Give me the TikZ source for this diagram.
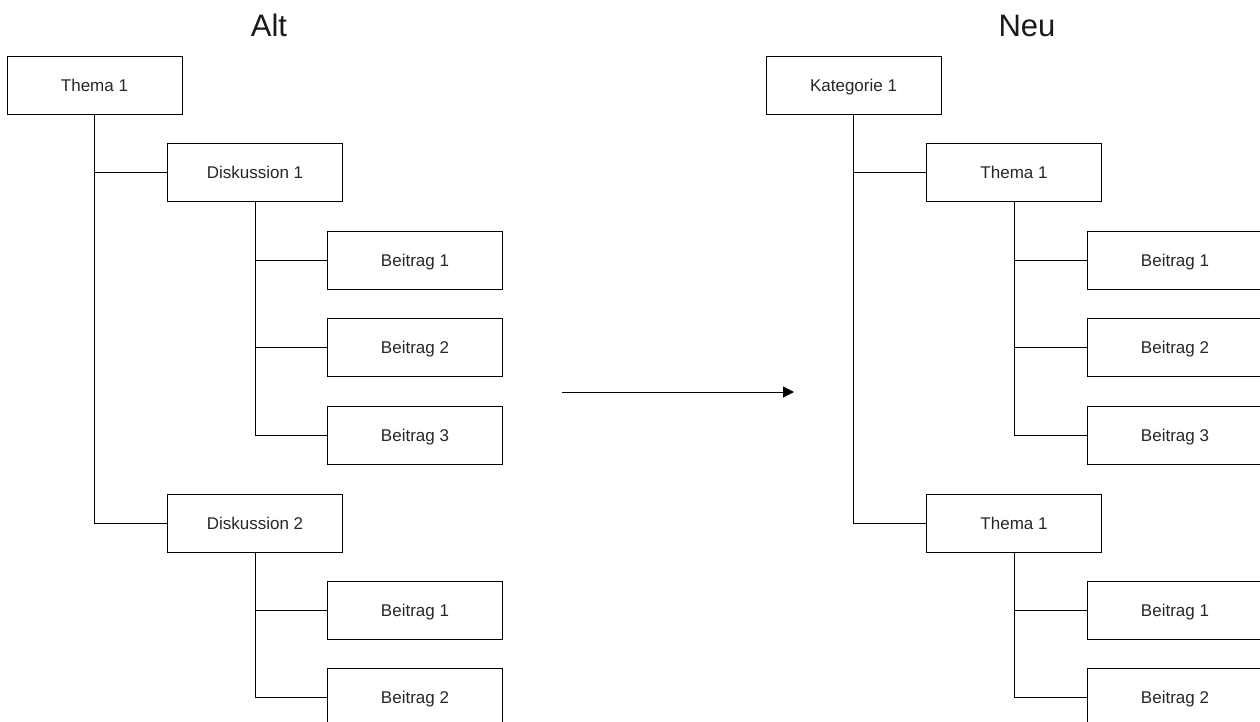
\documentclass[tikz,border=0pt]{standalone}
\usepackage{fontspec}
\setmainfont{Liberation Sans}
\usetikzlibrary{arrows.meta}
\begin{document}
\begin{tikzpicture}[x=1pt,y=-1pt,
  box/.style={draw=black,line width=1pt,minimum width=175pt,minimum height=58pt,inner sep=0pt,
    font=\fontsize{17}{20}\selectfont,text=black!85,text height=12.2pt,text depth=0pt},
  title/.style={font=\fontsize{31}{36}\selectfont,text=black!90,anchor=base},
  link/.style={draw=black,line width=1pt}]
\useasboundingbox (0,0) rectangle (1260,722);
\clip (0,0) rectangle (1260,722);
% titles
\node[title] (talt) at (269,37) {Alt};
\node[title] (tneu) at (1027,37) {Neu};
% left tree
\node[box] (t1) at (94.5,85.5) {Thema 1};
\node[box] (d1) at (255,172.5) {Diskussion 1};
\node[box] (d1b1) at (415,260) {Beitrag 1};
\node[box] (d1b2) at (415,347.5) {Beitrag 2};
\node[box] (d1b3) at (415,435) {Beitrag 3};
\node[box] (d2) at (255,523) {Diskussion 2};
\node[box] (d2b1) at (415,610) {Beitrag 1};
\node[box] (d2b2) at (415,697.5) {Beitrag 2};
\draw[link] (t1.south) |- (d1.west);
\draw[link] (t1.south) |- (d2.west);
\draw[link] (d1.south) |- (d1b1.west);
\draw[link] (d1.south) |- (d1b2.west);
\draw[link] (d1.south) |- (d1b3.west);
\draw[link] (d2.south) |- (d2b1.west);
\draw[link] (d2.south) |- (d2b2.west);
% arrow
\coordinate (a1) at (562,392);
\coordinate (a2) at (794,392);
\draw[link,-{Triangle[length=11pt,width=11pt]}] (a1) -- (a2);
% right tree
\node[box] (k1) at (853.5,85.5) {Kategorie 1};
\node[box] (r1) at (1014,172.5) {Thema 1};
\node[box] (r1b1) at (1175,260) {Beitrag 1};
\node[box] (r1b2) at (1175,347.5) {Beitrag 2};
\node[box] (r1b3) at (1175,435) {Beitrag 3};
\node[box] (r2) at (1014,523) {Thema 1};
\node[box] (r2b1) at (1175,610) {Beitrag 1};
\node[box] (r2b2) at (1175,697.5) {Beitrag 2};
\draw[link] (k1.south) |- (r1.west);
\draw[link] (k1.south) |- (r2.west);
\draw[link] (r1.south) |- (r1b1.west);
\draw[link] (r1.south) |- (r1b2.west);
\draw[link] (r1.south) |- (r1b3.west);
\draw[link] (r2.south) |- (r2b1.west);
\draw[link] (r2.south) |- (r2b2.west);
\end{tikzpicture}
\end{document}
